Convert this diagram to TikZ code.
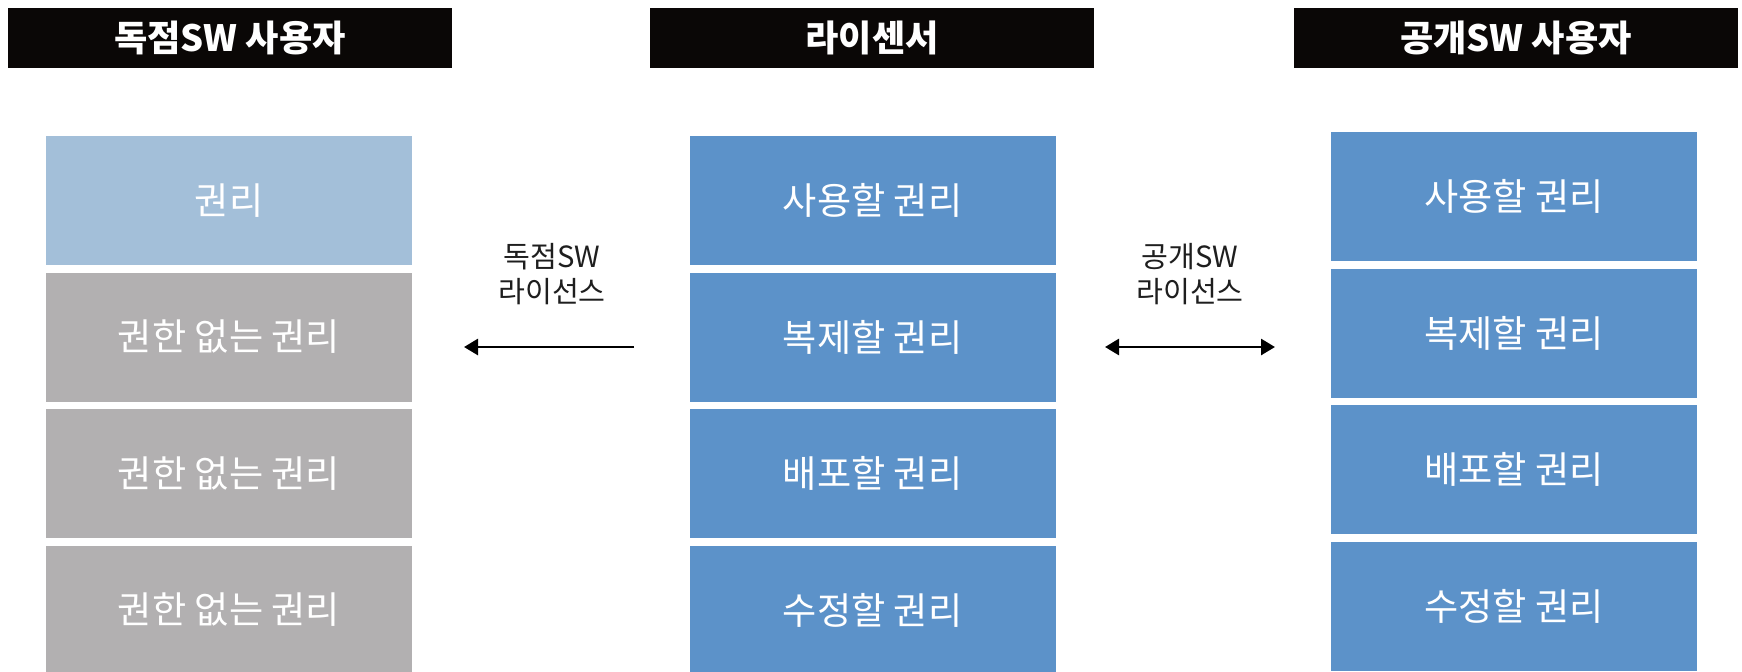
\documentclass[tikz,border=0pt]{standalone}
\usepackage{fontspec}
\setmainfont{Noto Sans CJK KR}
\usetikzlibrary{arrows.meta}
\definecolor{hdrblack}{RGB}{10,7,6}
\definecolor{boxblue}{RGB}{92,146,201}
\definecolor{lightblue}{RGB}{163,191,217}
\definecolor{boxgray}{RGB}{178,176,177}
\definecolor{labeltext}{RGB}{30,30,30}
\tikzset{
  hdr/.style={rectangle, fill=hdrblack, text=white, minimum width=222pt, minimum height=30pt, inner sep=0pt, font=\fontsize{18.1pt}{21pt}\selectfont\bfseries},
  cell/.style={rectangle, text=white, minimum width=183pt, minimum height=64.5pt, inner sep=0pt, font=\fontsize{18.6pt}{22pt}\selectfont},
  bluecell/.style={cell, fill=boxblue},
  graycell/.style={cell, fill=boxgray},
  lightcell/.style={cell, fill=lightblue},
  lbl/.style={align=center, text=labeltext, inner sep=0pt, font=\fontsize{14.6pt}{17.5pt}\selectfont},
  arr/.style={line width=1.4pt, -{Triangle[length=7pt,width=8pt]}},
  dblarr/.style={line width=1.4pt, {Triangle[length=7pt,width=8pt]}-{Triangle[length=7pt,width=8pt]}}
}
\begin{document}
\begin{tikzpicture}[x=0.5pt,y=-0.5pt]
\useasboundingbox (0,0) rectangle (1742,671);
\fill[white] (0,0) rectangle (1742,671);
\begin{scope}
\clip (0,0) rectangle (1742,671);
% headers
\node[hdr] (h1) at (230,38) {독점SW 사용자};
\node[hdr] (h2) at (872,38) {라이센서};
\node[hdr] (h3) at (1516,38) {공개SW 사용자};
% left column
\node[lightcell] (l1) at (229,200.5) {권리};
\node[graycell] (l2) at (229,337) {권한 없는 권리};
\node[graycell] (l3) at (229,473.5) {권한 없는 권리};
\node[graycell] (l4) at (229,610) {권한 없는 권리};
% center column
\node[bluecell] (c1) at (872.5,200.5) {사용할 권리};
\node[bluecell] (c2) at (872.5,337) {복제할 권리};
\node[bluecell] (c3) at (872.5,473.5) {배포할 권리};
\node[bluecell] (c4) at (872.5,610) {수정할 권리};
% right column
\node[bluecell] (r1) at (1514,196.5) {사용할 권리};
\node[bluecell] (r2) at (1514,333) {복제할 권리};
\node[bluecell] (r3) at (1514,469.5) {배포할 권리};
\node[bluecell] (r4) at (1514,606) {수정할 권리};
\end{scope}
% labels
\node[lbl] (lab1) at (552,274) {독점SW\\라이선스};
\node[lbl] (lab2) at (1190,274) {공개SW\\라이선스};
% arrows
\coordinate (a1s) at (634,347);
\coordinate (a1e) at (464,347);
\coordinate (a2s) at (1105,347);
\coordinate (a2e) at (1275,347);
\draw[arr] (a1s) -- (a1e);
\draw[dblarr] (a2s) -- (a2e);
\end{tikzpicture}
\end{document}
